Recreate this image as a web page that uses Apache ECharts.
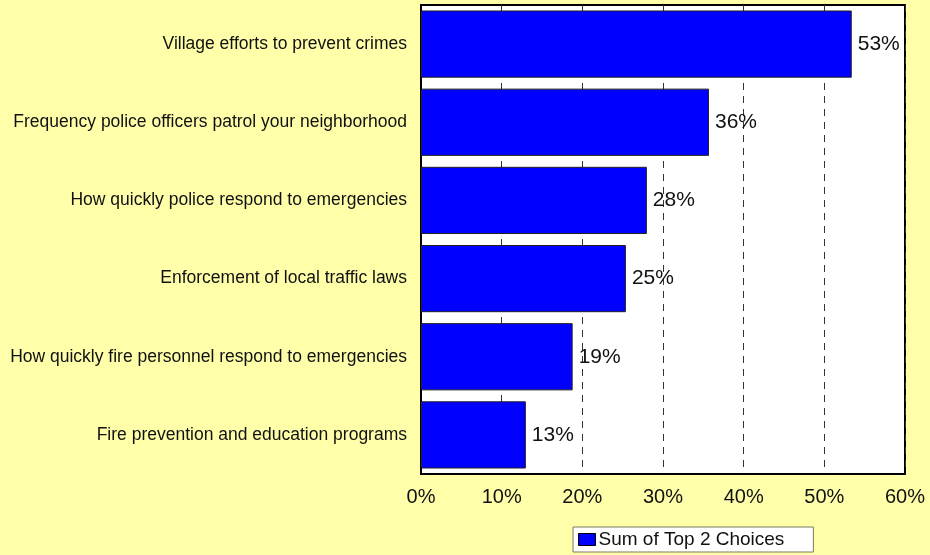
<!DOCTYPE html>
<html>
<head>
<meta charset="utf-8">
<script src="https://cdn.jsdelivr.net/npm/echarts@6/dist/echarts.min.js"></script>
<style>
  html, body { margin: 0; padding: 0; background: #FFFFAA; }
  #chart { width: 930px; height: 555px; }
</style>
</head>
<body>
<div id="chart"></div>
<script>
// Survey items, listed top to bottom
const categories = [
  'Village efforts to prevent crimes',
  'Frequency police officers patrol your neighborhood',
  'How quickly police respond to emergencies',
  'Enforcement of local traffic laws',
  'How quickly fire personnel respond to emergencies',
  'Fire prevention and education programs'
];
// Percent of respondents naming the item among their top two choices
const topTwoValues = [53.4, 35.7, 28.0, 25.4, 18.8, 13.0];
const seriesName = 'Sum of Top 2 Choices';
// Value axis range (percent)
const axisMin = 0;
const axisMax = 60;
const axisStep = 10;

const font = "'Liberation Sans', Arial, sans-serif";
const chart = echarts.init(document.getElementById('chart'));

chart.setOption({
  backgroundColor: '#FFFFAA',
  animation: false,
  textStyle: { fontFamily: font },
  grid: {
    left: 421, right: 25, top: 5, bottom: 81,
    show: true,
    backgroundColor: '#FFFFFF',
    borderColor: '#000000',
    borderWidth: 2
  },
  legend: {
    data: [seriesName],
    left: 573, top: 527,
    backgroundColor: '#FFFFFF',
    borderColor: '#7a7a5a',
    borderWidth: 1,
    borderRadius: 0,
    padding: [3, 29, 3, 5],
    itemWidth: 17, itemHeight: 12, itemGap: 4,
    icon: 'rect',
    itemStyle: { borderColor: '#000000', borderWidth: 1 },
    textStyle: { fontSize: 19, color: '#111111', fontFamily: font, padding: [0, 0, 0, -2] }
  },
  xAxis: {
    type: 'value',
    min: axisMin, max: axisMax, interval: axisStep,
    axisLine: { show: true, lineStyle: { color: '#000000', width: 2 } },
    axisTick: { show: false },
    axisLabel: {
      fontSize: 20, color: '#111111', margin: 13,
      formatter: v => v + '%'
    },
    splitLine: {
      show: true,
      lineStyle: { color: '#333333', width: 1, type: [7, 6] }
    }
  },
  yAxis: {
    type: 'category',
    data: categories,
    inverse: true,
    axisLine: { show: true, lineStyle: { color: '#000000', width: 2 } },
    axisTick: { show: false },
    axisLabel: { fontSize: 17.5, color: '#111111', margin: 14 },
    splitLine: { show: false }
  },
  series: [{
    name: seriesName,
    type: 'bar',
    data: topTwoValues,
    barCategoryGap: '14%',
    itemStyle: { color: '#0000FF', borderColor: '#222222', borderWidth: 1 },
    label: {
      show: true,
      position: 'right',
      distance: 6,
      fontSize: 21,
      color: '#111111',
      formatter: p => Math.round(p.value) + '%'
    }
  }]
});
</script>
</body>
</html>
